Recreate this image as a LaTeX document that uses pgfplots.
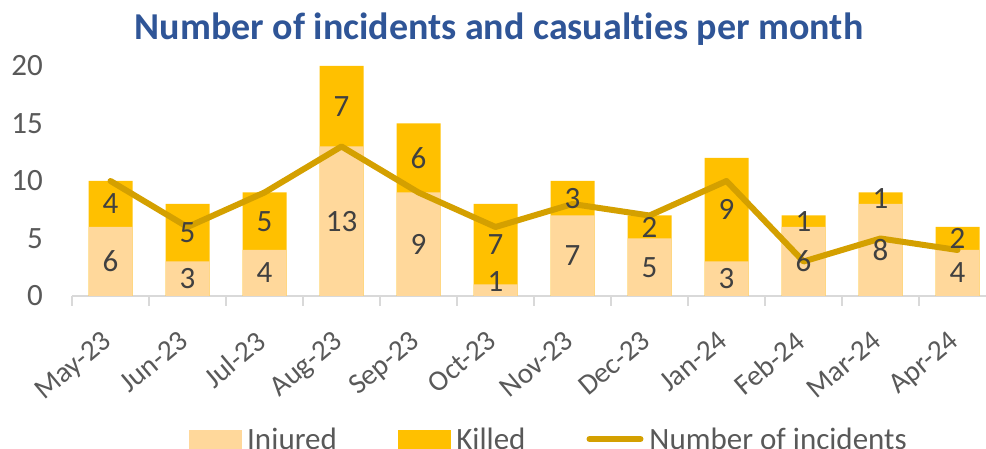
\documentclass[border=0pt]{standalone}
\usepackage{pgfplots}
\pgfplotsset{compat=1.18}
\usepackage{pgfplotstable}
\usepackage{fontspec}
\setmainfont{Carlito}[Ligatures=NoCommon]
\definecolor{injc}{HTML}{FFD89B}
\definecolor{kilc}{HTML}{FFC000}
\definecolor{linec}{HTML}{D4A000}
\definecolor{titc}{HTML}{2F5597}
\definecolor{tickc}{HTML}{595959}
\definecolor{labc}{HTML}{404040}
\definecolor{axc}{HTML}{D9D9D9}
\pgfplotstableread{
x inj kil inc
0 6 4 10
1 3 5 6
2 4 5 9
3 13 7 13
4 9 6 9
5 1 7 6
6 7 3 8
7 5 2 7
8 3 9 10
9 6 1 3
10 8 1 5
11 4 2 4
}\data
\begin{document}
\begin{tikzpicture}[x=1pt,y=1pt]
\begin{axis}[
  at={(72pt,153pt)}, anchor=south west,
  scale only axis, width=914pt, height=230pt,
  xmin=-0.5, xmax=11.37, ymin=0, ymax=20,
  clip=false,
  /pgf/number format/assume math mode=true,
  axis x line*=bottom, axis y line*=left,
  y axis line style={draw=none},
  x axis line style={draw=axc, line width=1.5pt},
  xtick={0,...,11},
  xticklabels={May-23,Jun-23,Jul-23,Aug-23,Sep-23,Oct-23,Nov-23,Dec-23,Jan-24,Feb-24,Mar-24,Apr-24},
  minor xtick={-0.5,0.5,...,11.5},
  major tick length=0pt, minor tick length=10pt,
  tick align=outside,
  xtick style={draw=axc, line width=1.5pt},
  ytick={0,5,10,15,20},
  ytick style={draw=none},
  tick label style={font=\fontsize{31}{37}\selectfont, color=tickc},
  yticklabel style={anchor=east, inner sep=0pt, xshift=-29pt},
  xticklabel style={font=\fontsize{29}{35}\selectfont, inner sep=0pt, xshift=-10pt, yshift=-33pt, rotate=40, anchor=north east},
  every node near coord/.append style={anchor=center, font=\fontsize{31}{37}\selectfont, color=labc},
  legend style={at={(0.521,-0.622)}, anchor=center, draw=none, fill=none,
    legend columns=3, font=\fontsize{31}{37}\selectfont, text=tickc,
    /tikz/every odd column/.append style={column sep=5pt},
    /tikz/every even column/.append style={column sep=60pt},
    nodes={inner sep=1pt}},
]
\addlegendimage{legend image code/.code={\fill[injc] (0pt,-9pt) rectangle (52pt,9pt);}}
\addlegendentry{Injured}
\addlegendimage{legend image code/.code={\fill[kilc] (0pt,-9pt) rectangle (52pt,9pt);}}
\addlegendentry{Killed}
\addlegendimage{legend image code/.code={\draw[linec, line width=6pt, line cap=round] (3pt,0pt) -- (54pt,0pt);}}
\addlegendentry{Number of incidents}
% killed segment (drawn as full stack height), injured in front
\addplot[ybar, bar width=44pt, bar shift=0pt, fill=kilc, draw=none, forget plot]
  table[x=x, y expr=\thisrow{inj}+\thisrow{kil}] {\data};
\addplot[ybar, bar width=44pt, bar shift=0pt, fill=injc, draw=none, forget plot]
  table[x=x, y=inj] {\data};
\addplot[linec, line width=6pt, line join=round, line cap=round, mark=none, forget plot]
  table[x=x, y=inc] {\data};
% data labels
\addplot[draw=none, mark=none, nodes near coords, point meta=explicit, forget plot]
  table[x=x, y expr={max(\thisrow{inj}/2,1.3)}, meta=inj] {\data};
\addplot[draw=none, mark=none, nodes near coords, point meta=explicit, forget plot]
  table[x=x, y expr={\thisrow{inj}+\thisrow{kil}/2}, meta=kil] {\data};
\end{axis}
\node[anchor=base, font=\fontsize{38}{46}\selectfont\bfseries, text=titc] at (499pt,409pt)
  {Number of incidents and casualties per month};
\pgfresetboundingbox
\path[use as bounding box] (0,0) rectangle (986pt,449pt);
\end{tikzpicture}
\end{document}
